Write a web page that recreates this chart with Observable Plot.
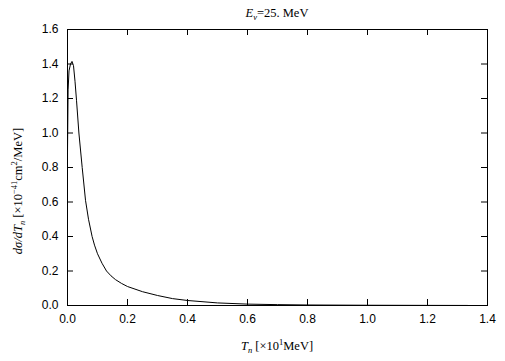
<!DOCTYPE html>
<html>
<head>
<meta charset="utf-8">
<script src="https://cdn.jsdelivr.net/npm/d3@7"></script>
<script src="https://cdn.jsdelivr.net/npm/@observablehq/plot@0.6"></script>
<style>
  html, body { margin: 0; padding: 0; background: #fff; }
  #chart svg { display: block; }
</style>
</head>
<body>
<div id="chart"></div>
<script>
// Kinetic energy T_n (×10^1 MeV)
const tn = [0, 0.002, 0.005, 0.010, 0.015, 0.020, 0.025, 0.030, 0.038, 0.049, 0.060, 0.070, 0.082, 0.090, 0.100, 0.115, 0.130, 0.145, 0.160, 0.180, 0.200, 0.250, 0.300, 0.350, 0.400, 0.500, 0.600, 0.700, 0.800, 1.000, 1.200, 1.333];
// dσ/dT_n (×10^-41 cm²/MeV)
const dsig = [0.88, 1.25, 1.36, 1.40, 1.415, 1.39, 1.30, 1.19, 1.00, 0.80, 0.61, 0.50, 0.40, 0.35, 0.30, 0.245, 0.20, 0.172, 0.15, 0.128, 0.11, 0.08, 0.058, 0.040, 0.029, 0.015, 0.008, 0.005, 0.003, 0.0015, 0.0007, 0.0003];
const xTicks = [0, 0.2, 0.4, 0.6, 0.8, 1.0, 1.2, 1.4];
const yTicks = [0, 0.2, 0.4, 0.6, 0.8, 1.0, 1.2, 1.4, 1.6];

const data = tn.map((t, i) => ({t, v: dsig[i]}));

const W = 505, H = 361;
const mL = 67, mR = 18, mT = 29, mB = 56;
const xDom = [0, 1.4], yDom = [0, 1.6];
const tickPx = 6;
const dyT = (yDom[1] - yDom[0]) * tickPx / (H - mT - mB);
const dxT = (xDom[1] - xDom[0]) * tickPx / (W - mL - mR);

const plot = Plot.plot({
  width: W, height: H,
  marginLeft: mL, marginRight: mR, marginTop: mT, marginBottom: mB,
  style: {fontFamily: "'Liberation Sans', Arial, sans-serif", fontSize: "12px", color: "#000", background: "#fff"},
  x: {domain: xDom},
  y: {domain: yDom},
  marks: [
    Plot.axisX(xTicks, {tickSize: 0, tickPadding: 9, tickFormat: d3.format(".1f"), label: null, fontSize: 12}),
    Plot.axisY(yTicks, {tickSize: 0, tickPadding: 9, tickFormat: d3.format(".1f"), label: null, fontSize: 12}),
    // inward ticks, bottom/top
    Plot.ruleX(xTicks, {x: d => d, y1: yDom[0], y2: yDom[0] + dyT, stroke: "#000"}),
    Plot.ruleX(xTicks, {x: d => d, y1: yDom[1], y2: yDom[1] - dyT, stroke: "#000"}),
    // inward ticks, left/right
    Plot.ruleY(yTicks, {y: d => d, x1: xDom[0], x2: xDom[0] + dxT, stroke: "#000"}),
    Plot.ruleY(yTicks, {y: d => d, x1: xDom[1], x2: xDom[1] - dxT, stroke: "#000"}),
    Plot.line(data, {x: "t", y: "v", stroke: "#000", strokeWidth: 1}),
    Plot.frame({stroke: "#000"})
  ]
});

const svg = d3.select(plot);
const serif = "'Liberation Serif', 'Times New Roman', serif";

// Title
const title = svg.append("text")
  .attr("x", (mL + W - mR) / 2).attr("y", 17)
  .attr("text-anchor", "middle")
  .attr("font-family", serif).attr("font-size", 12.5).attr("fill", "#000");
title.append("tspan").attr("font-style", "italic").text("E");
title.append("tspan").attr("font-size", 8.5).attr("dy", 3).attr("font-style", "italic").text("ν");
title.append("tspan").attr("dy", -3).text("=25. MeV");

// X label
const xl = svg.append("text")
  .attr("x", (mL + W - mR) / 2).attr("y", 350)
  .attr("text-anchor", "middle")
  .attr("font-family", serif).attr("font-size", 12.5).attr("fill", "#000");
xl.append("tspan").attr("font-style", "italic").text("T");
xl.append("tspan").attr("font-size", 8.5).attr("dy", 3).attr("font-style", "italic").text("n");
xl.append("tspan").attr("dy", -3).text(" [×10");
xl.append("tspan").attr("font-size", 8.5).attr("dy", -5).text("1");
xl.append("tspan").attr("dy", 5).text("MeV]");

// Y label
const yl = svg.append("text")
  .attr("transform", "translate(22,191) rotate(-90)")
  .attr("text-anchor", "middle")
  .attr("font-family", serif).attr("font-size", 12.5).attr("fill", "#000");
yl.append("tspan").attr("font-style", "italic").text("dσ/dT");
yl.append("tspan").attr("font-size", 8.5).attr("dy", 3).attr("font-style", "italic").text("n");
yl.append("tspan").attr("dy", -3).text(" [×10");
yl.append("tspan").attr("font-size", 8.5).attr("dy", -5).text("−41");
yl.append("tspan").attr("dy", 5).text("cm");
yl.append("tspan").attr("font-size", 8.5).attr("dy", -5).text("2");
yl.append("tspan").attr("dy", 5).text("/MeV]");

document.getElementById("chart").appendChild(plot);
</script>
</body>
</html>
